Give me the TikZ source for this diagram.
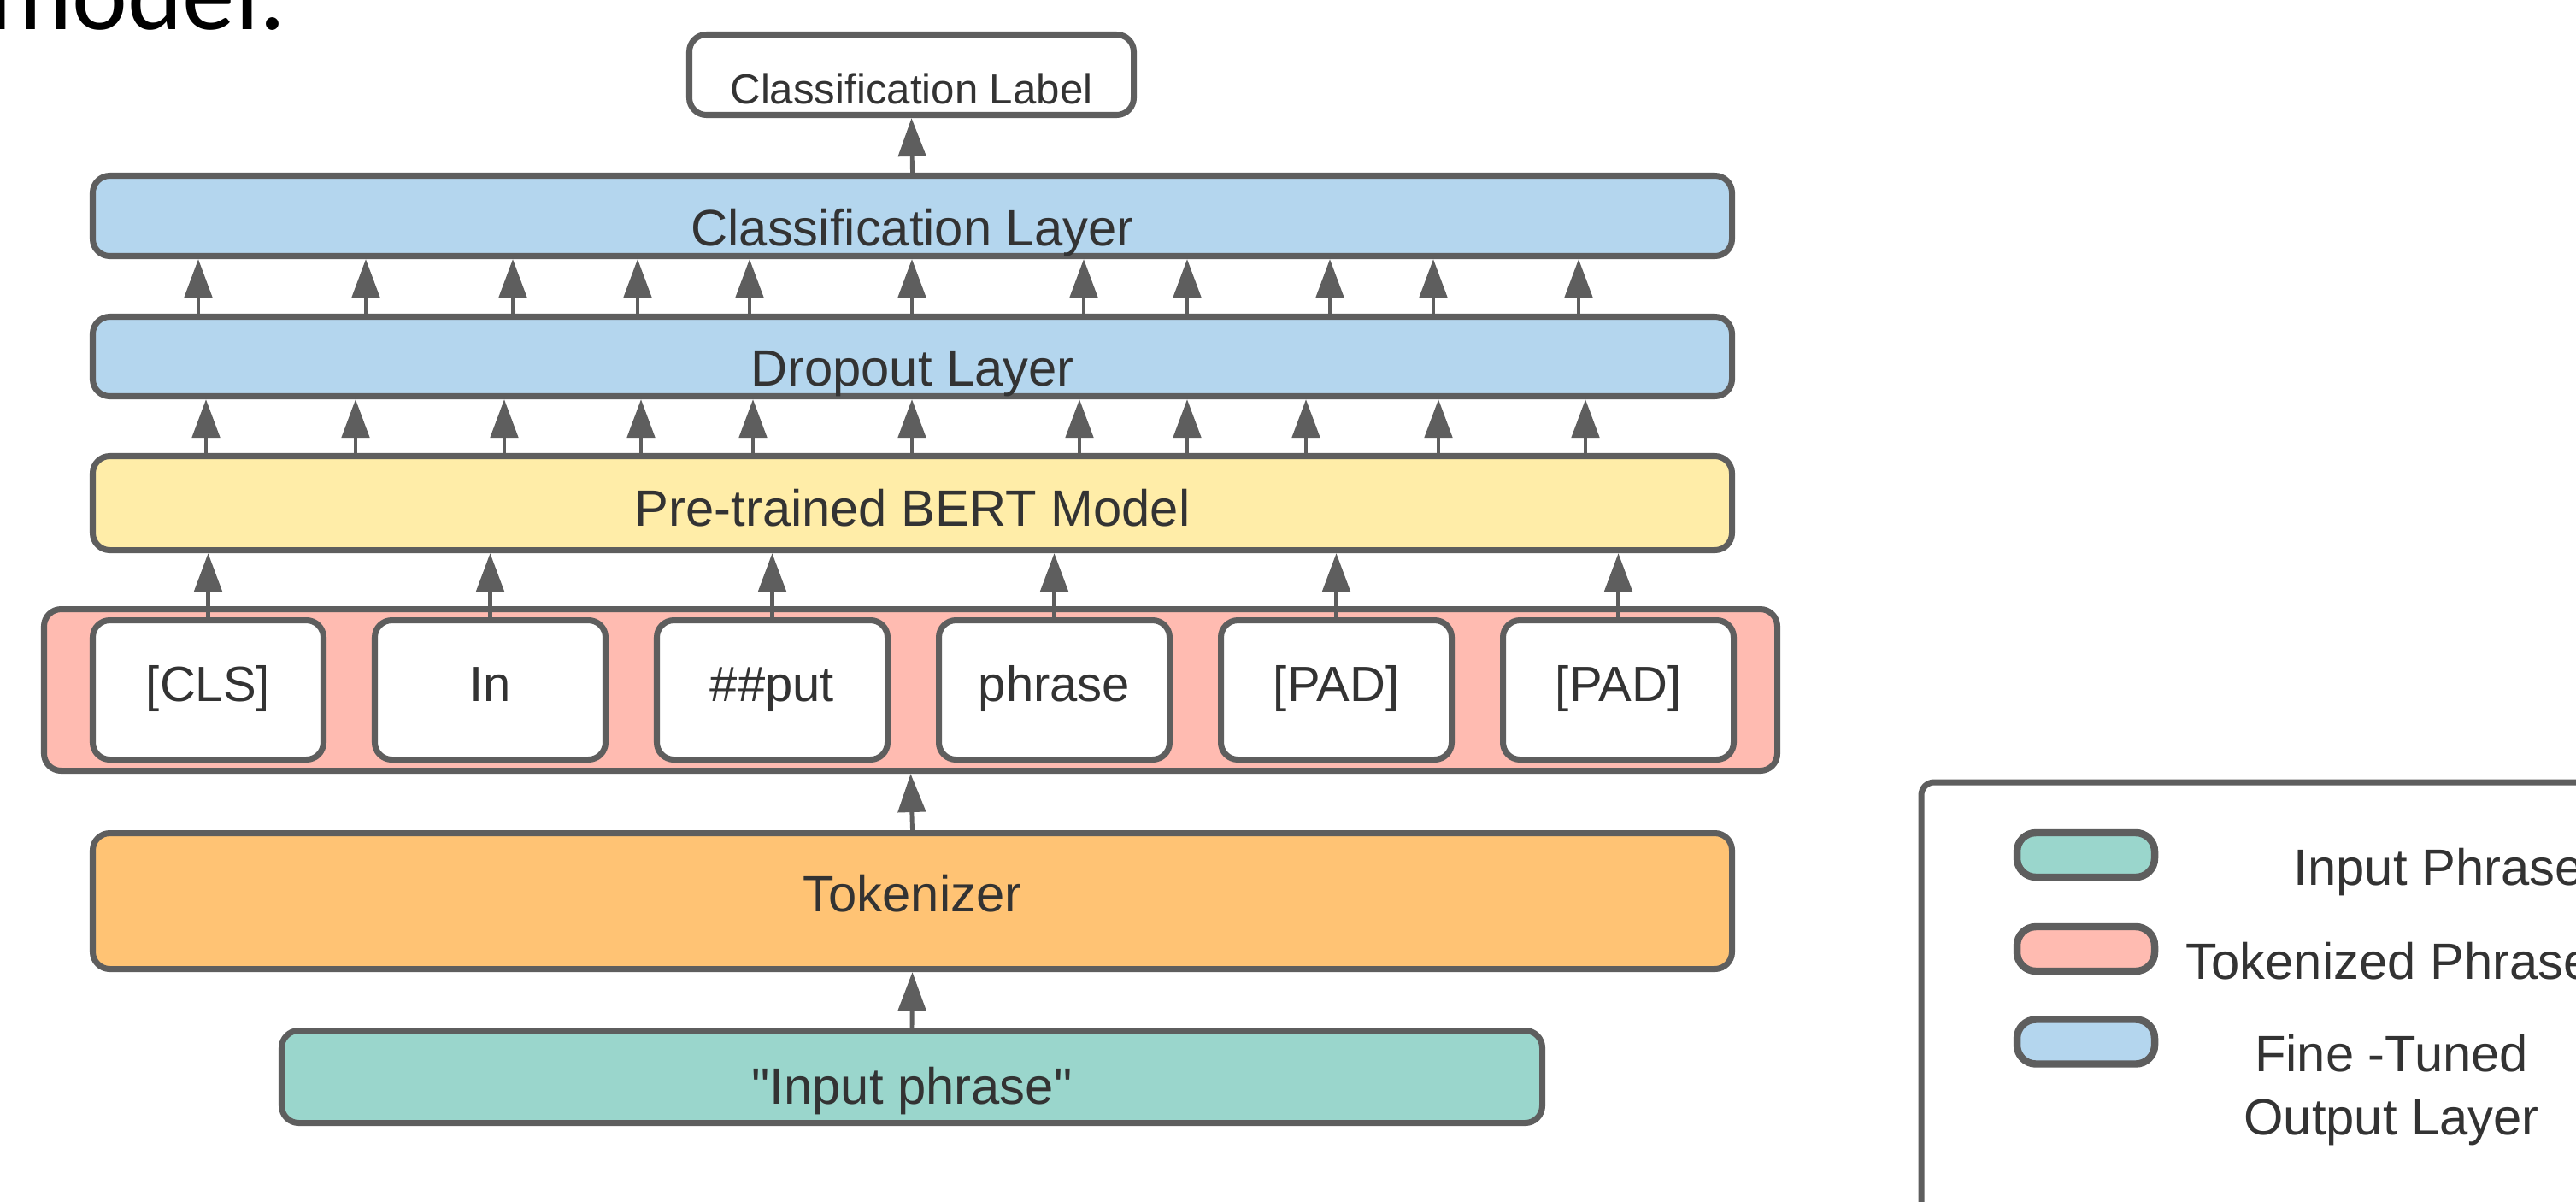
\documentclass[tikz,border=0pt]{standalone}
\usepackage{fontspec}
\setmainfont{Liberation Sans}
\newfontfamily\capfont{Carlito}
\usetikzlibrary{arrows.meta}
\definecolor{linegray}{HTML}{5E5E5E}
\definecolor{textgray}{HTML}{333333}
\definecolor{layerblue}{HTML}{B4D6EE}
\definecolor{bertyellow}{HTML}{FFEDA8}
\definecolor{tokenpink}{HTML}{FFBBB1}
\definecolor{tokorange}{HTML}{FFC374}
\definecolor{inputteal}{HTML}{9AD6CC}

\begin{document}
\begin{tikzpicture}[join=round]
    \tikzstyle{layer} = [draw=linegray,line width=2pt,rounded corners=2mm,
                         text=textgray,font=\fontsize{17}{20}\selectfont,
                         minimum width=19.18cm,text depth=0pt]
    \tikzstyle{token} = [layer,fill=white,minimum width=2.7cm,minimum height=1.63cm,
                         font=\fontsize{16.5}{20}\selectfont,text height=0.26cm]
    \tikzstyle{flow} = [draw=linegray,line width=1.4pt,
                        arrows={-Triangle[length=4.5mm,width=3.2mm]}]
    \tikzstyle{swatch} = [draw=linegray,line width=2.4pt,rounded corners=2.2mm,
                          minimum width=1.61cm,minimum height=0.52cm]
    \tikzstyle{legtext} = [text=textgray,font=\fontsize{17}{20}\selectfont,inner sep=0pt]
    \useasboundingbox (0,0) rectangle (30.14,-14.05);
    \node[anchor=base east,inner sep=0pt,font=\capfont\fontsize{35}{40}\selectfont]
        (caption) at (3.35,-0.34) {model.};
    \node[layer,minimum width=5.2cm,minimum height=0.94cm,
          font=\fontsize{14}{16}\selectfont,text height=0.68cm]
        (label) at (10.665,-0.875) {Classification Label};
    \node[layer,fill=layerblue,minimum height=0.94cm,text height=0.69cm]
        (cls) at (10.675,-2.525) {Classification Layer};
    \node[layer,fill=layerblue,minimum height=0.93cm,text height=0.69cm]
        (drop) at (10.675,-4.17) {Dropout Layer};
    \node[layer,fill=bertyellow,minimum height=1.1cm,text height=0.53cm]
        (bert) at (10.675,-5.885) {Pre-trained BERT Model};
    \node[layer,fill=tokenpink,minimum width=20.28cm,minimum height=1.89cm]
        (tokens) at (10.655,-8.07) {};
    \node[token] (t1) at (2.435,-8.07) {[CLS]};
    \node[token] (t2) at (5.735,-8.07) {In};
    \node[token] (t3) at (9.035,-8.07) {\#\#put};
    \node[token] (t4) at (12.335,-8.07) {phrase};
    \node[token] (t5) at (15.635,-8.07) {[PAD]};
    \node[token] (t6) at (18.935,-8.07) {[PAD]};
    \node[layer,fill=tokorange,minimum height=1.59cm,text height=0.25cm]
        (tokenizer) at (10.675,-10.54) {Tokenizer};
    \node[layer,fill=inputteal,minimum width=14.75cm,minimum height=1.08cm,
          text height=0.63cm]
        (input) at (10.67,-12.595) {\textquotedbl Input phrase\textquotedbl};
    % arrows between the layers
    \draw[flow] (input.north) -- (tokenizer.south);
    \draw[flow] (tokenizer.north) -- (tokens.south);
    \foreach \i in {1,...,6}
        \draw[flow] (t\i.north) -- (t\i.north |- bert.south);
    \foreach \x in {2.41,4.16,5.90,7.50,8.81,10.67,12.63,13.89,15.28,16.83,18.55}
        \draw[flow] (\x,0 |- bert.north) -- (\x,0 |- drop.south);
    \foreach \x in {2.32,4.28,6.00,7.46,8.77,10.67,12.68,13.89,15.56,16.77,18.47}
        \draw[flow] (\x,0 |- drop.north) -- (\x,0 |- cls.south);
    \draw[flow] (cls.north) -- (label.south);
    % legend
    \draw[draw=linegray,line width=2pt,rounded corners=1.5mm]
        (22.48,-9.15) rectangle (31,-15);
    \node[swatch,fill=inputteal] (sw1) at (24.405,-10.0) {};
    \node[swatch,fill=tokenpink] (sw2) at (24.405,-11.1) {};
    \node[swatch,fill=layerblue] (sw3) at (24.405,-12.185) {};
    \node[legtext,anchor=base west] (leg1) at (26.83,-10.35) {Input Phrase};
    \node[legtext,anchor=base west] (leg2) at (25.57,-11.45) {Tokenized Phrase};
    \node[legtext,anchor=base] (leg3) at (27.98,-12.53) {Fine -Tuned};
    \node[legtext,anchor=base] (leg4) at (27.98,-13.27) {Output Layer};
\end{tikzpicture}
\end{document}
